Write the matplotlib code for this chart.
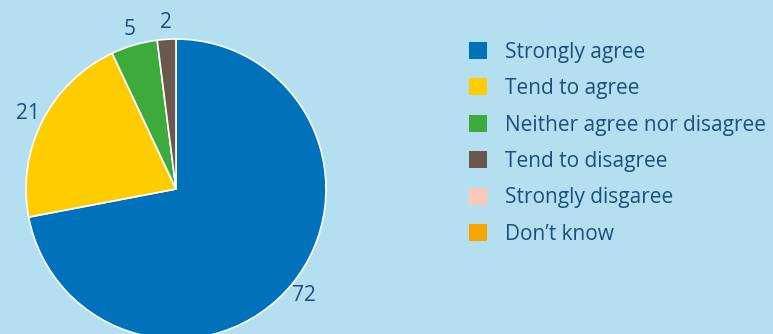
import matplotlib
matplotlib.use("Agg")
import matplotlib.pyplot as plt
from matplotlib.patches import Patch

categories = ["Strongly agree", "Tend to agree", "Neither agree nor disagree",
              "Tend to disagree", "Strongly disgaree", "Don\u2019t know"]
values = [72, 21, 5, 2, 0, 0]
colors = ["#0072bc", "#ffcc00", "#3faa3c", "#6b574b", "#fcc9b9", "#f7a600"]

bg = "#b3dff0"
txt = "#1d4f7c"
plt.rcParams['font.family'] = ['Open Sans', 'DejaVu Sans']

fig = plt.figure(figsize=(7.73, 3.34), dpi=100, facecolor=bg)
W, H = 773, 334
cx, cy, r = 176, 189, 150
ax = fig.add_axes([(cx - r) / W, (H - cy - r) / H, 2 * r / W, 2 * r / H])
ax.set_facecolor(bg)

pv = [v for v in values if v > 0]
pc = colors[:len(pv)]
wedges, texts = ax.pie(pv, colors=pc, startangle=90, counterclock=False,
                       labels=[str(v) for v in pv], labeldistance=1.11,
                       wedgeprops=dict(edgecolor="white", linewidth=1.2),
                       textprops=dict(color=txt, fontsize=15))
for t in texts:
    t.set_ha("center")
    t.set_va("center")
ax.set_xlim(-1, 1)
ax.set_ylim(-1, 1)
ax.set_aspect("equal")
ax.axis("off")

handles = [Patch(facecolor=c, edgecolor="none") for c in colors]
leg = fig.legend(handles, categories, loc="upper left",
                 bbox_to_anchor=(452 / W, 1 - 25 / H), frameon=False,
                 prop=dict(size=15), labelcolor=txt,
                 handlelength=0.87, handleheight=0.87,
                 handletextpad=0.87, labelspacing=0.74, borderpad=0.3)
fig.savefig("out.png", dpi=100, facecolor=bg)
